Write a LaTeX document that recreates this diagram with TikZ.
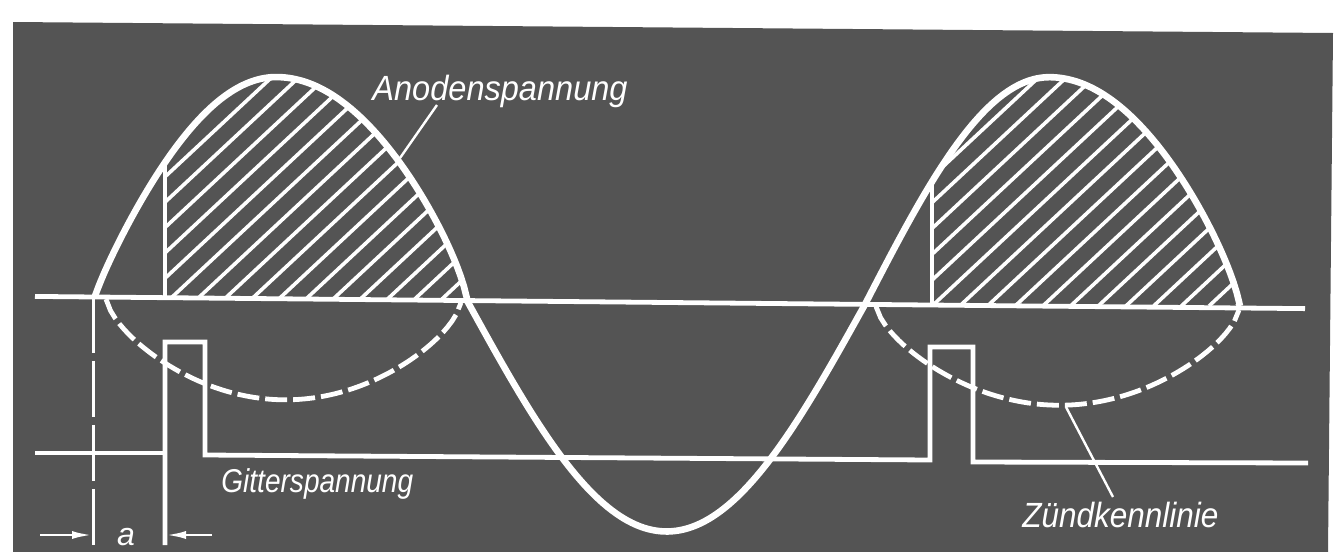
\documentclass[tikz,border=0pt]{standalone}
\usepackage{fontspec}
\setmainfont{Liberation Sans}
\usepackage{graphicx}
\usetikzlibrary{arrows.meta}
\definecolor{bg}{RGB}{84,84,84}
\tikzset{
  wave/.style={white, line width=3.3pt, line join=round},
  axisline/.style={white, line width=2.4pt},
  gridline/.style={white, line width=2.4pt, line join=miter},
  hatchline/.style={white, line width=1.8pt},
  hatchedge/.style={white, line width=1.9pt},
  zkl/.style={white, line width=2.4pt, dash pattern=on 11pt off 3pt},
  dashv/.style={white, line width=1.5pt, dash pattern=on 28pt off 4pt},
  leader/.style={white, line width=1.2pt},
  lab/.style={text=white, inner sep=0pt},
  dim/.style={white, line width=1.3pt, -{Latex[length=10pt,width=4pt]}},
}
\begin{document}
\begin{tikzpicture}[x=0.5pt,y=-0.5pt,
  declare function={ax(\x)=297+(\x-95)*0.0096;
    sa(\s)=sqrt(\s*sqrt(\s));
    sz(\s)=sqrt(\s*sqrt(sqrt(\s)));
    sb(\s)=sqrt(\s*sqrt(\s*sqrt(\s)));
    hl(\x)=ax(\x)-221.7*sb(max(sin((\x-95)/182*90),0.002));
    hr(\x)=ax(\x)-221.7*sa(max(sin((467-\x)/190*90),0.002));
    tr(\x)=ax(\x)+229*sin((\x-467)/398*180);
    gl(\x)=ax(\x)-229*sin((\x-865)/185*90);
    gr(\x)=ax(\x)-229*sa(max(sin((1240-\x)/190*90),0.002));
    za(\x)=ax(\x)+101*sz(max(sin((\x-106)/355*180),0.002));
    zb(\x)=ax(\x)+99*sz(max(sin((\x-876)/363*180),0.002));}]
\useasboundingbox (0,0) rectangle (1340,552);
\fill[white] (0,0) rectangle (1340,552);
\fill[bg] (13,22) -- (1333,33) -- (1328,552) -- (13,552) -- cycle;

% hatched area 1
\begin{scope}
\clip (165,{ax(165)}) -- plot[domain=165:277,samples=40] (\x,{hl(\x)})
  -- plot[domain=277:467,samples=60] (\x,{hr(\x)}) -- cycle;
\foreach \k in {-9,...,12} \draw[hatchline] ({170+27.2*\k},299) -- ++(400,-373);
\end{scope}
% hatched area 2
\begin{scope}
\clip (932,{ax(932)}) -- plot[domain=932:1050,samples=40] (\x,{gl(\x)})
  -- plot[domain=1050:1240,samples=60] (\x,{gr(\x)}) -- cycle;
\foreach \k in {-9,...,12} \draw[hatchline] ({932+27.7*\k},306) -- ++(400,-373);
\end{scope}
\draw[hatchedge] (165,{ax(165)}) -- (165,{hl(165)});
\draw[hatchedge] (932,{ax(932)}) -- (932,{gl(932)});

% axis
\draw[axisline] (35,{ax(35)}) -- (1305,{ax(1305)});

% anode voltage
\draw[wave] plot[domain=95:277,samples=60] (\x,{hl(\x)})
  -- plot[domain=277:467,samples=60] (\x,{hr(\x)})
  -- plot[domain=467:865,samples=100] (\x,{tr(\x)})
  -- plot[domain=865:1050,samples=60] (\x,{gl(\x)})
  -- plot[domain=1050:1240,samples=60] (\x,{gr(\x)});

% ignition characteristic (dashed)
\draw[zkl] plot[domain=106:461,samples=80] (\x,{za(\x)});
\draw[zkl] plot[domain=876:1239,samples=80] (\x,{zb(\x)});

% grid voltage
\draw[gridline] (35,453) -- (165,453);
\draw[gridline] (165,545) -- (165,342) -- (205,342) -- (205,455) -- (930,460) -- (930,347) -- (973,347) -- (973,462) -- (1308,463);

% dimension a
\draw[dashv] (93,{ax(93)}) -- (93,545);
\coordinate (dl) at (92,535);
\coordinate (dr) at (166,535);
\coordinate (dls) at (40,535);
\coordinate (drs) at (212,535);
\draw[dim] (dls) -- (dl);
\draw[dim] (drs) -- (dr);
\node[lab, font=\fontsize{16}{16}\selectfont\itshape] (a) at (126,537) {a};

% labels
\node[lab, anchor=base west, font=\fontsize{17.5}{18}\selectfont\itshape] (anode) at (372,100) {\scalebox{0.93}[1]{Anodenspannung}};
\node[lab, anchor=base west, font=\fontsize{16.5}{17}\selectfont\itshape] (gitter) at (221,492) {\scalebox{0.85}[1]{Gitterspannung}};
\node[lab, anchor=base west, font=\fontsize{17.5}{18}\selectfont\itshape] (zuend) at (1022,527) {\scalebox{0.9}[1]{Zündkennlinie}};

% leaders
\coordinate (anodefoot) at (437,105);
\coordinate (anodetip) at (400,158);
\draw[leader] (anodefoot) -- (anodetip);
\coordinate (zuendtip) at (1066,407);
\coordinate (zuendfoot) at (1113,497);
\draw[leader] (zuendtip) -- (zuendfoot);
\end{tikzpicture}
\end{document}
